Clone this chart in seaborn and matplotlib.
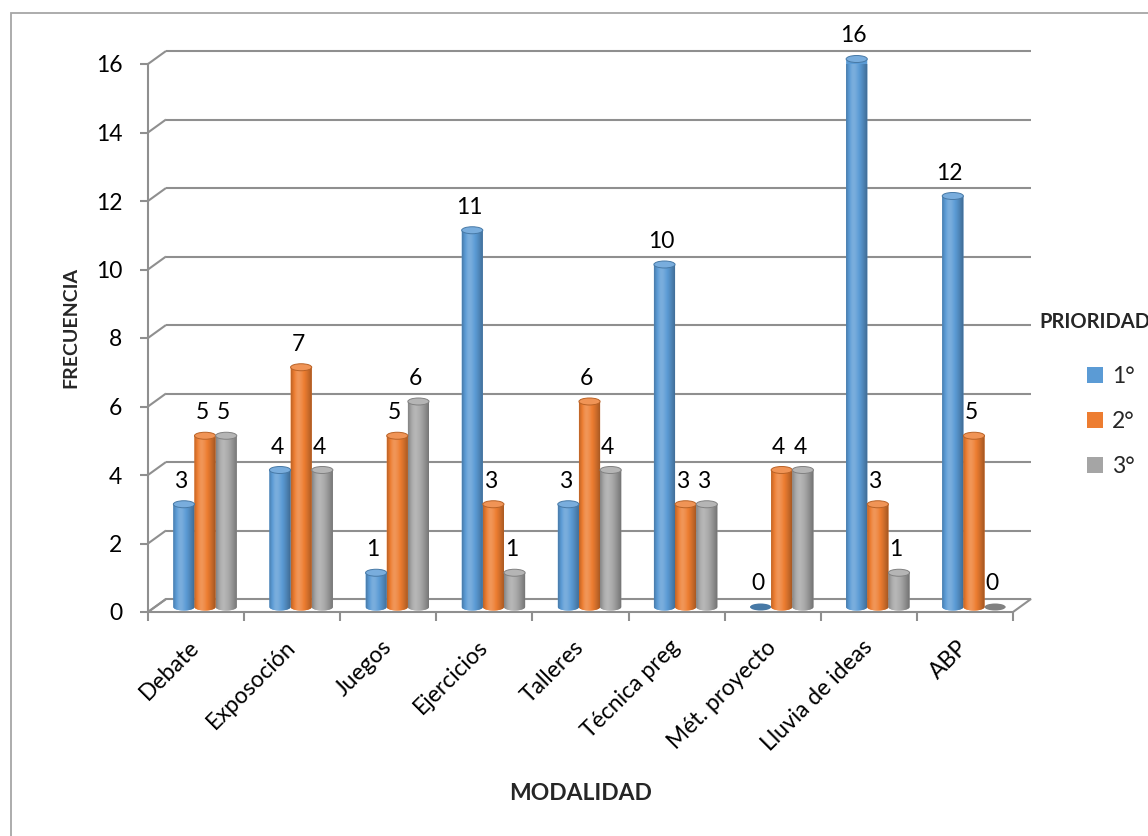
import numpy as np
import pandas as pd
import matplotlib
matplotlib.use("Agg")
import matplotlib.pyplot as plt
import seaborn as sns
from matplotlib import transforms as mtransforms
from matplotlib.patches import Ellipse, PathPatch, Rectangle, Polygon
from matplotlib.lines import Line2D
from matplotlib.path import Path
from matplotlib.colors import to_rgb

# ---- data -------------------------------------------------------------
categories = ["Debate", "Exposoción", "Juegos", "Ejercicios", "Talleres",
              "Técnica preg", "Mét. proyecto", "Lluvia de ideas", "ABP"]
prioridades = ["1°", "2°", "3°"]
primera = [3, 4, 1, 11, 3, 10, 0, 16, 12]
segunda = [5, 7, 5, 3, 6, 3, 4, 3, 5]
tercera = [5, 4, 6, 1, 4, 3, 4, 1, 0]
colores = ["#5B9BD5", "#ED7D31", "#A5A5A5"]
y_ticks = list(range(0, 17, 2))

df = pd.DataFrame({
    "Modalidad": categories * 3,
    "Prioridad": [p for p in prioridades for _ in categories],
    "Frecuencia": primera + segunda + tercera,
})

# ---- style ------------------------------------------------------------
sns.set_theme(style="white")
plt.rcParams["font.family"] = ["Lato", "DejaVu Sans"]
GRID = "#8f8f8f"
FS = 16.5

W, H = 1148, 836
fig = plt.figure(figsize=(W / 100, H / 100), dpi=100)
ax = fig.add_axes([148 / W, (H - 612) / H, (1013 - 148) / W, (612 - 64) / H])

sns.barplot(data=df, x="Modalidad", y="Frecuencia", hue="Prioridad",
            order=categories, hue_order=prioridades, palette=colores,
            saturation=1, width=0.66, legend=False, ax=ax)
ax.set_xlim(-0.5, len(categories) - 0.5)
ax.set_ylim(0, 16)


def shifted(dx_px, dy_px):
    """Data transform moved by a pixel offset (depth of the 3-D box)."""
    return ax.transData + mtransforms.ScaledTranslation(
        dx_px / fig.dpi, dy_px / fig.dpi, fig.dpi_scale_trans)


def to_data(x, y, dx_px, dy_px):
    disp = ax.transData.transform((x, y)) + np.array([dx_px, dy_px])
    return ax.transData.inverted().transform(disp)


DEPTH = (18, 13)      # back wall offset in pixels
BAR_OFF = (9, 5)      # bars sit in the middle of the depth
bar_t = shifted(*BAR_OFF)

x_lo, x_hi = ax.get_xlim()

# ---- floor --------------------------------------------------------------
fl = [(x_lo, 0), (x_hi, 0), tuple(to_data(x_hi, 0, *DEPTH)), tuple(to_data(x_lo, 0, *DEPTH))]
ax.add_patch(Polygon(fl, closed=True, facecolor="white", edgecolor=GRID,
                     lw=1.5, zorder=0.4, clip_on=False, joinstyle="miter"))

# ---- back wall gridlines + left-wall diagonals ---------------------------
for v in y_ticks:
    bl = to_data(x_lo, v, *DEPTH)
    br = to_data(x_hi, v, *DEPTH)
    ax.add_line(Line2D([x_lo, bl[0]], [v, bl[1]], color=GRID, lw=1.5,
                       zorder=0.5, clip_on=False, solid_capstyle="butt"))
    if v > 0:
        ax.add_line(Line2D([bl[0], br[0]], [bl[1], br[1]], color=GRID, lw=1.5,
                           zorder=0.5, clip_on=False, solid_capstyle="butt"))

# ---- cylinders ----------------------------------------------------------
px_per_unit = ax.transData.transform((0, 1))[1] - ax.transData.transform((0, 0))[1]
ELL_H = 7.0 / px_per_unit   # cap ellipse height in data units


def shade_profile(n=64):
    t = np.linspace(0, 1, n)
    return np.where(t < 0.35,
                    0.80 + 0.32 * np.sin(t / 0.35 * np.pi / 2),
                    1.12 - 0.45 * ((t - 0.35) / 0.65) ** 1.4)


def shaded(rgb, s):
    rgb = np.asarray(rgb)
    out = np.where(s[:, None] <= 1, rgb[None, :] * s[:, None],
                   rgb[None, :] + (1 - rgb[None, :]) * (s[:, None] - 1) * 1.6)
    return np.clip(out, 0, 1)


prof = shade_profile()
for cont, col in zip(ax.containers, colores):
    rgb = np.array(to_rgb(col))
    grad = shaded(rgb, prof)[None, :, :]
    for bar in cont:
        x0, w, h = bar.get_x(), bar.get_width(), bar.get_height()
        cx = x0 + w / 2
        bar.set_visible(False)
        if h <= 0:
            ax.add_patch(Ellipse((cx, 0), w, ELL_H, transform=bar_t,
                                 facecolor=rgb * 0.78, edgecolor="none",
                                 zorder=3, clip_on=False))
        else:
            ang = np.linspace(np.pi, 2 * np.pi, 40)
            verts = [(x0, h), (x0, 0)]
            verts += [(cx + w / 2 * np.cos(a), ELL_H / 2 * np.sin(a)) for a in ang]
            verts += [(x0 + w, h), (x0, h)]
            codes = [Path.MOVETO] + [Path.LINETO] * (len(verts) - 2) + [Path.CLOSEPOLY]
            body = PathPatch(Path(verts, codes), transform=bar_t,
                             facecolor=rgb, edgecolor="none", zorder=3,
                             clip_on=False)
            ax.add_patch(body)
            im = ax.imshow(grad, extent=(x0, x0 + w, -ELL_H, h), aspect="auto",
                           interpolation="bilinear", transform=bar_t, zorder=3.1)
            im.set_clip_path(body)
            cap = rgb + (1 - rgb) * 0.18
            ax.add_patch(Ellipse((cx, h), w, ELL_H, transform=bar_t,
                                 facecolor=cap, edgecolor=rgb * 0.78, lw=0.7,
                                 zorder=3.2, clip_on=False))
        lbl_t = bar_t + mtransforms.ScaledTranslation(-3 / fig.dpi, 23 / fig.dpi,
                                                      fig.dpi_scale_trans)
        ax.text(cx, h, f"{h:g}", transform=lbl_t, ha="center", va="center",
                fontsize=FS, color="black", zorder=5, clip_on=False)

ax.set_xlim(x_lo, x_hi)
ax.set_ylim(0, 16)

# ---- axes ---------------------------------------------------------------
for side in ["top", "right", "bottom"]:
    ax.spines[side].set_visible(False)
ax.spines["left"].set_color(GRID)
ax.spines["left"].set_linewidth(1.5)
ax.spines["left"].set_zorder(0.6)

ax.set_yticks(y_ticks)
ax.set_yticklabels([str(v) for v in y_ticks])
ax.tick_params(axis="y", direction="out", length=5.5, width=1.5, color=GRID,
               pad=13, labelsize=FS, labelcolor="black", left=True)

ax.set_xticks(range(len(categories)))
ax.set_xticklabels(categories, rotation=45, ha="right", va="center",
                   rotation_mode="anchor")
ax.set_xticks(np.arange(-0.5, len(categories), 1.0), minor=True)
ax.tick_params(axis="x", which="major", length=0, pad=0, labelsize=FS,
               labelcolor="black", bottom=True)
ax.tick_params(axis="x", which="minor", direction="out", length=6.5,
               width=1.5, color=GRID, bottom=True)
lbl_shift = mtransforms.ScaledTranslation(0 / fig.dpi, -32 / fig.dpi,
                                          fig.dpi_scale_trans)
for t in ax.get_xticklabels():
    t.set_transform(t.get_transform() + lbl_shift)

ax.set_ylabel("FRECUENCIA", fontsize=14, fontweight="bold", va="center")
ax.yaxis.set_label_coords((71 - 148) / (1013 - 148), (612 - 327) / (612 - 64))
ax.set_xlabel("MODALIDAD", fontsize=16.5, fontweight="bold", va="center")
ax.xaxis.set_label_coords((581 - 148) / (1013 - 148), (612 - 793) / (612 - 64))

# ---- legend -------------------------------------------------------------
fig.text(1039 / W, 1 - 322 / H, "PRIORIDAD", fontsize=14.5, fontweight="bold",
         ha="left", va="center")
handles = [Rectangle((0, 0), 1, 1, facecolor=c, edgecolor="none") for c in colores]
ax.legend(handles, prioridades, loc="upper left",
          bbox_to_anchor=(1087 / W, 1 - 366 / H), bbox_transform=fig.transFigure,
          frameon=False, fontsize=FS, handlelength=0.7, handleheight=0.7,
          handletextpad=0.4, labelspacing=1.05, borderpad=0, borderaxespad=0)

# ---- outer frame --------------------------------------------------------
fig.add_artist(Rectangle((11 / W, -0.1), 1.2, 1 - 13 / H + 0.1,
                         transform=fig.transFigure, fill=False,
                         edgecolor="#a6a6a6", lw=1.3, clip_on=False))

fig.savefig("out.png", dpi=100)
